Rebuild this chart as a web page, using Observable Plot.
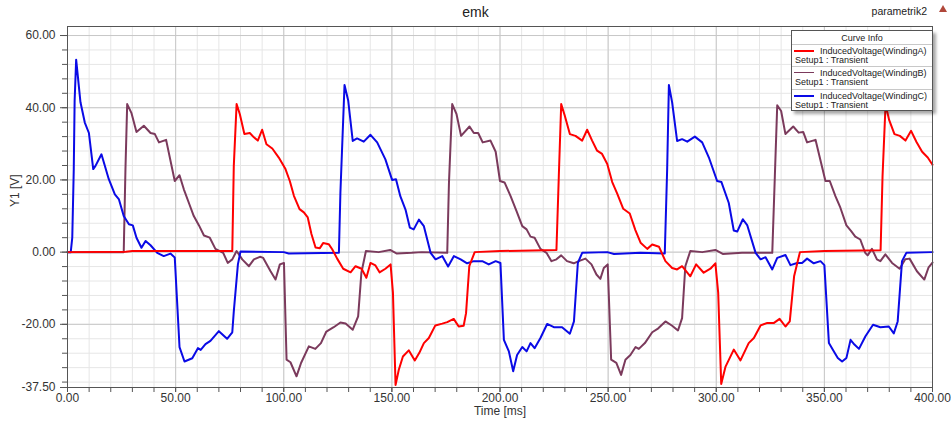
<!DOCTYPE html>
<html><head><meta charset="utf-8">
<script src="https://cdn.jsdelivr.net/npm/d3@7"></script>
<script src="https://cdn.jsdelivr.net/npm/@observablehq/plot@0.6"></script>
<style>
body{margin:0;background:#fff;}
#wrap{position:relative;width:951px;height:421px;font-family:"Liberation Sans",Arial,sans-serif;color:#333;}
#title{position:absolute;left:0;top:5px;width:951px;text-align:center;font-size:14px;line-height:14px;color:#222;}
#param{position:absolute;right:24px;top:6px;font-size:10.5px;line-height:11px;color:#222;}
#icon{position:absolute;left:939px;top:5px;width:0;height:0;border-left:4px solid transparent;border-right:4px solid transparent;border-bottom:7px solid #b0473a;}
#legend{position:absolute;left:791px;top:30px;width:140px;height:79px;background:#fff;border:1px solid #555;box-shadow:3px 3px 3px rgba(0,0,0,0.35);font-size:9px;color:#222;}
#legend .hdr{position:absolute;left:0;top:2px;width:140px;text-align:center;line-height:11px;}
#legend .sep{position:absolute;left:0;width:140px;height:0;border-top:1px solid #c8c8c8;}
#legend .sw{position:absolute;left:2px;width:20px;height:0;}
#legend .nm{position:absolute;left:28px;line-height:10px;white-space:nowrap;}
#legend .su{position:absolute;left:3px;line-height:10px;white-space:nowrap;}
</style></head><body><div id="wrap"></div><script>
// ---- data ----
const titleText = "emk";
const paramText = "parametrik2";
const legendTitle = "Curve Info";
const seriesNames = ["InducedVoltage(WindingA)", "InducedVoltage(WindingB)", "InducedVoltage(WindingC)"];
const setupText = "Setup1 : Transient";
const seriesColors = ["#ff0000", "#7b3a5c", "#0a0ae6"];
const xLabels = [0, 50, 100, 150, 200, 250, 300, 350, 400];
const xMinor = d3.range(0, 401, 10);
const yLabels = [60, 40, 20, 0, -20, -37.5];
const yMajorGrid = [60, 40, 20, 0, -20];
const yMinor = d3.range(-36, 61, 4);

const seriesA = [[0,0],[27,0.1],[30,0.3],[76.2,0.3],[76.9,23.9],[78.2,41.0],[79.7,38.2],[81.8,32.7],[84.3,33.0],[86.2,31.8],[88.0,30.9],[90.0,33.9],[92.0,29.9],[94.7,28.7],[97.7,26.2],[100.8,23.0],[102.8,19.7],[104.7,15.6],[107.3,11.9],[109.3,11.0],[111.1,9.6],[112.8,5.0],[114.7,1.3],[116.7,1.1],[118.2,2.5],[120.8,2.2],[122.4,0.8],[124.7,-1.8],[127.5,-4.6],[130.9,-5.6],[133.2,-3.9],[136.0,-4.6],[138.2,-7.1],[140.1,-3.0],[142.4,-3.7],[144.3,-5.6],[147.0,-4.6],[149.4,-3.4],[150.5,-11.3],[151.7,-36.8],[153.2,-32.6],[155.1,-28.9],[157.8,-27.2],[160.6,-30.0],[162.7,-27.9],[164.8,-25.2],[167.1,-23.8],[170.1,-20.3],[173.3,-19.8],[175.6,-19.4],[178.6,-18.5],[180.9,-20.6],[183.2,-20.4],[184.3,-16.9],[185.8,-3.9],[188.3,0.0],[200,0.3],[226.1,0.6],[227.2,21.1],[228.3,41.0],[229.9,37.9],[232.3,32.7],[234.9,32.2],[238.0,30.9],[240.3,33.9],[242.6,30.9],[244.9,28.1],[247.2,27.2],[249.6,24.4],[251.9,19.4],[254.2,16.2],[257.0,12.0],[260.0,10.7],[262.6,6.1],[265.0,2.6],[268.1,0.9],[270.4,2.1],[273.5,1.5],[276.5,-2.5],[279.6,-4.4],[281.9,-4.8],[284.2,-3.9],[288.0,-6.7],[290.7,-3.4],[294.2,-5.7],[297.3,-4.6],[299.6,-3.1],[300.9,-11.3],[302.3,-36.5],[304.3,-31.7],[308.1,-27.0],[311.2,-30.0],[315.0,-25.2],[317.4,-23.8],[320.5,-20.3],[323.6,-19.6],[326.7,-19.6],[329.3,-18.5],[332.0,-20.6],[334.0,-19.2],[336.0,-6.7],[338.7,0],[350,0.3],[376.0,0.5],[376.9,21.1],[378.3,41.0],[379.9,36.7],[382.4,32.7],[384.9,32.2],[387.5,30.9],[390.1,33.6],[392.6,30.5],[395.2,27.8],[397.8,26.2],[400,24.2]];

const seriesB = [[0,0],[26.0,0],[26.8,23],[27.6,41.0],[29.6,38.5],[31.9,33.3],[35.3,35.0],[38.4,33.0],[40.4,32.7],[42.3,30.4],[45.6,31.1],[49.6,19.7],[51.8,21.3],[53.8,17.4],[56.4,13.2],[58.4,10.0],[60.8,7.4],[63.1,4.6],[65.8,4.0],[68.4,0.9],[72.0,-0.2],[74.1,-3.0],[76.2,-2.0],[78.2,0.3],[80.8,-2.0],[83.9,-3.9],[86.2,-2.0],[89.0,-1.3],[90.5,-1.6],[93.9,-5.3],[96.2,-7.6],[98.2,-3.4],[100.1,-3.0],[101.3,-29.8],[103.1,-30.5],[105.9,-34.4],[108.0,-30.7],[111.6,-26.1],[114.6,-26.8],[117.2,-25.2],[119.7,-22.0],[123.1,-20.8],[126.2,-19.5],[128.6,-19.8],[131.9,-21.5],[134.4,-17.8],[135.9,-5.7],[138.0,0.3],[143.9,0],[149.2,0.6],[152.3,-0.4],[159.2,-0.2],[163.8,0],[175.6,-0.2],[176.4,19.2],[177.9,41.0],[179.9,38.2],[182.0,32.2],[185.9,34.8],[187.9,33.0],[189.9,33.0],[192.0,30.4],[195.6,30.9],[198.0,27.8],[200.0,19.7],[202.1,19.3],[204.9,15.5],[207.6,11.4],[210.3,7.2],[212.3,6.3],[214.1,4.3],[216.0,4.0],[218.7,0.9],[221.5,-0.2],[223.8,-2.5],[226.1,-2.0],[228.3,-0.9],[231.0,-2.5],[234.1,-3.1],[236.4,-2.5],[239.5,-1.8],[242.3,-3.4],[244.6,-6.2],[246.4,-7.4],[248.0,-4.4],[249.8,-3.4],[251.4,-29.8],[253.8,-30.7],[256.0,-34.0],[258.0,-29.8],[260.3,-28.5],[262.7,-26.3],[264.2,-26.8],[267.0,-25.2],[270.4,-22.2],[273.2,-21.1],[276.5,-19.2],[279.6,-20.4],[282.3,-21.7],[284.2,-18.3],[285.7,-3.9],[288.0,0.3],[293.5,0],[299.6,0.6],[303.0,-0.5],[311.9,-0.2],[325.9,-0.2],[327.1,21.1],[328.2,40.7],[330.0,39.1],[332.0,32.7],[335.6,34.8],[338.1,33.1],[340.2,33.3],[342.0,30.4],[345.9,31.1],[350.5,19.7],[352.5,19.7],[355.1,15.5],[357.4,12.3],[360.2,7.4],[362.3,5.9],[364.3,4.3],[366.6,3.5],[368.9,-0.2],[370.0,-0.9],[372.0,0.9],[374.3,-2.0],[375.9,-2.5],[378.2,-0.6],[381.3,-3.0],[384.8,-4.6],[387.4,-2.0],[389.4,-1.8],[392.8,-5.3],[396.2,-7.6],[398.2,-4.2],[400,-2.9]];

const seriesC = [[0,0],[1.5,0],[2.2,4],[2.9,23],[3.3,42],[4.0,53.3],[4.6,49.8],[6.0,41.5],[8.0,35.9],[9.9,33.0],[11.9,23.0],[12.95,23.9],[15.7,27.1],[19.1,20.2],[21.9,16.0],[23.8,14.6],[26.0,10.0],[28.4,7.7],[30.2,7.4],[31.9,4.0],[34.2,1.2],[36.1,3.1],[38.4,1.9],[41.5,-0.2],[44.5,-1.1],[47.6,-0.4],[49.6,-1.5],[51.8,-26.3],[54.1,-30.3],[57.7,-29.4],[60.3,-26.6],[61.6,-27.1],[63.8,-25.5],[66.1,-24.6],[70.0,-21.9],[73.8,-24.0],[76.2,-22.2],[76.9,-16.4],[78.8,-3.4],[80.0,0.2],[100.0,0],[102.3,-0.4],[125.5,-0.2],[126.2,16.5],[128.1,46.3],[129.8,42.0],[131.9,30.8],[133.9,31.5],[137.0,30.6],[140.1,32.5],[143.2,30.4],[147.0,25.7],[150.1,20.0],[151.9,20.2],[153.9,15.5],[156.3,11.8],[158.3,6.8],[160.1,6.3],[162.5,9.0],[164.8,7.2],[167.9,-0.2],[170.2,-2.0],[173.3,-1.1],[176.0,-4.0],[178.7,-1.1],[181.8,-2.0],[184.8,-3.1],[187.9,-2.5],[191.8,-2.5],[194.8,-3.4],[198.0,-2.5],[200.2,-3.0],[201.8,-24.3],[204.1,-27.5],[206.1,-33.0],[207.9,-28.5],[210.3,-26.3],[212.3,-27.5],[214.1,-25.2],[216.0,-26.6],[218.7,-23.8],[221.8,-19.9],[224.9,-20.8],[228.7,-20.8],[232.3,-22.6],[234.2,-19.2],[236.0,-3.0],[238.0,-0.2],[249.6,0],[252.7,-0.5],[265.0,-0.2],[276.2,-0.4],[277.3,23.0],[278.1,46.3],[279.6,41.5],[281.9,30.8],[284.2,31.3],[286.6,30.6],[290.1,32.0],[293.5,30.4],[296.6,26.2],[300.4,19.7],[302.4,19.4],[305.8,13.6],[308.1,6.0],[309.7,5.7],[312.3,9.1],[314.3,7.5],[318.2,-0.2],[320.5,-2.0],[322.8,-1.4],[325.9,-4.8],[328.2,-1.6],[332.0,-0.8],[334.3,-3.6],[337.4,-3.0],[339.7,-3.0],[342.0,-1.8],[345.1,-3.1],[348.2,-2.5],[350.0,-3.6],[352.1,-25.2],[354.4,-27.5],[356.2,-29.3],[358.2,-30.3],[360.2,-29.3],[362.1,-24.3],[363.9,-25.6],[366.0,-26.8],[369.0,-23.3],[372.5,-20.1],[375.9,-20.8],[379.8,-20.6],[382.1,-22.5],[383.9,-19.2],[385.9,-2.5],[387.9,-0.2],[400,0]];

// ---- chart ----
const fmt = d => d.toFixed(2);
const lineOpts = c => ({x: d => d[0], y: d => d[1], stroke: c, strokeWidth: 2, curve: "linear"});

const chart = Plot.plot({
  width: 951, height: 421,
  marginLeft: 67, marginRight: 19, marginTop: 26, marginBottom: 34,
  style: {fontFamily: "'Liberation Sans', Arial, sans-serif", fontSize: "12px", color: "#333", background: "white", overflow: "visible"},
  x: {domain: [0, 400], axis: null},
  y: {domain: [-37.5, 62.5], axis: null},
  marks: [
    Plot.gridX(xMinor, {stroke: "#e6e6e6", strokeOpacity: 1}),
    Plot.gridY(yMinor, {stroke: "#e6e6e6", strokeOpacity: 1}),
    Plot.gridX(xLabels, {stroke: "#c8c8c8", strokeOpacity: 1}),
    Plot.gridY(yMajorGrid, {stroke: "#c8c8c8", strokeOpacity: 1}),
    Plot.line(seriesB, lineOpts(seriesColors[1])),
    Plot.line(seriesC, lineOpts(seriesColors[2])),
    Plot.line(seriesA, lineOpts(seriesColors[0])),
    Plot.frame({stroke: "#555"}),
    Plot.axisY(yMinor, {tickSize: 5, fill: "none", stroke: "#555"}),
    Plot.axisY(yLabels, {tickSize: 7, tickPadding: 5, tickFormat: fmt, label: null, stroke: "#555", fill: "#333"}),
    Plot.axisX(xMinor, {tickSize: 5, fill: "none", stroke: "#555"}),
    Plot.axisX(xLabels, {tickSize: 5, tickPadding: 1, tickFormat: fmt, label: null, stroke: "#555", fill: "#333"}),
    Plot.text(["Y1 [V]"], {frameAnchor: "left", rotate: -90, dx: -52, fill: "#333", fontSize: 12}),
    Plot.text(["Time [ms]"], {frameAnchor: "bottom", dy: 27.5, fill: "#333", fontSize: 12})
  ]
});

const wrap = document.getElementById("wrap");
wrap.appendChild(chart);

const t = document.createElement("div"); t.id = "title"; t.textContent = titleText; wrap.appendChild(t);
const p = document.createElement("div"); p.id = "param"; p.textContent = paramText; wrap.appendChild(p);
const ic = document.createElement("div"); ic.id = "icon"; wrap.appendChild(ic);

const lg = document.createElement("div"); lg.id = "legend";
const hdr = document.createElement("div"); hdr.className = "hdr"; hdr.textContent = legendTitle; lg.appendChild(hdr);
const rowTop = 13, rowH = 22.3;
seriesNames.forEach((name, i) => {
  const y0 = rowTop + i * rowH;
  const sep = document.createElement("div"); sep.className = "sep"; sep.style.top = y0 + "px"; lg.appendChild(sep);
  const sw = document.createElement("div"); sw.className = "sw";
  sw.style.top = (y0 + 6) + "px";
  sw.style.borderTop = (i === 1 ? 1.5 : 2.5) + "px solid " + seriesColors[i];
  lg.appendChild(sw);
  const nm = document.createElement("div"); nm.className = "nm"; nm.style.top = (y0 + 2) + "px"; nm.textContent = name; lg.appendChild(nm);
  const su = document.createElement("div"); su.className = "su"; su.style.top = (y0 + 11) + "px"; su.textContent = setupText; lg.appendChild(su);
});
wrap.appendChild(lg);
</script></body></html>
